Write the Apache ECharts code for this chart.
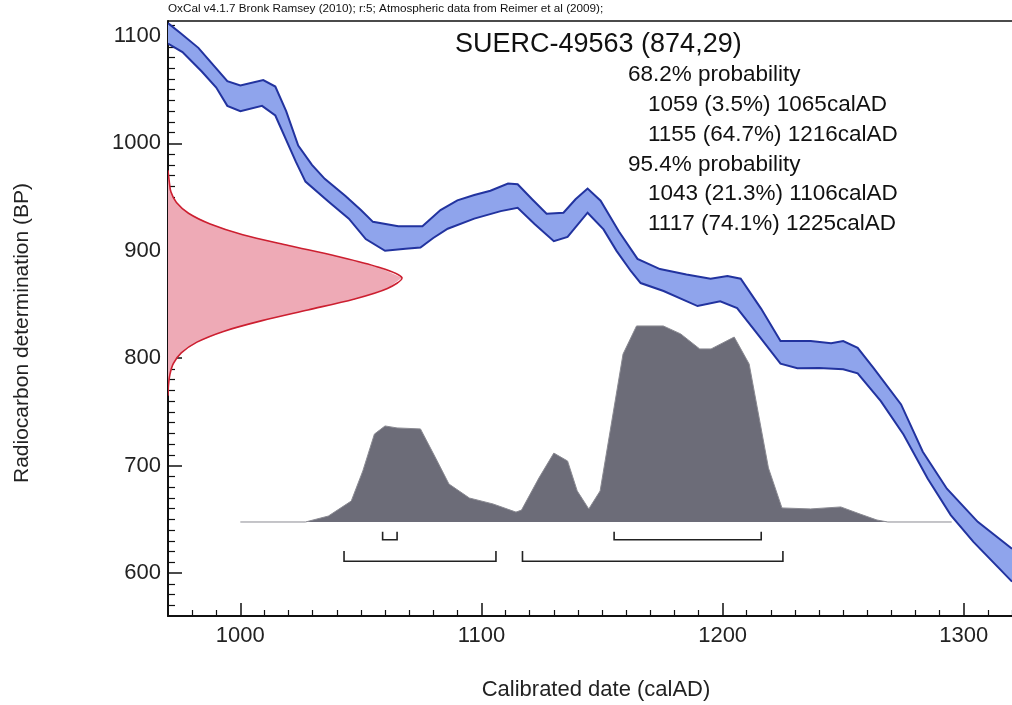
<!DOCTYPE html>
<html>
<head>
<meta charset="utf-8">
<script src="https://cdn.jsdelivr.net/npm/echarts@6/dist/echarts.min.js"></script>
<style>
html,body{margin:0;padding:0;background:#ffffff;}
#chart{width:1012px;height:705px;}
</style>
</head>
<body>
<div id="chart"></div>
<script>
// ---------------- data ----------------
const headerText = 'OxCal v4.1.7 Bronk Ramsey (2010); r:5; Atmospheric data from Reimer et al (2009);';
const sampleName = 'SUERC-49563';
const sampleBP = 874;
const sampleErr = 29;
const xTitle = 'Calibrated date (calAD)';
const yTitle = 'Radiocarbon determination (BP)';

const xMajorTicks = [1000, 1100, 1200, 1300];
const yMajorTicks = [600, 700, 800, 900, 1000, 1100];

// calibration curve band (calAD, BP)
const curveUpper = [
  [970,1112],[975,1103],[982.6,1089],[988,1075],[994.6,1058],[1000,1054],[1009.5,1059],[1014.5,1053],
  [1019,1030],[1024,998],[1029.7,980],[1035,967],[1043.6,951],[1050,938],[1055,927],[1065.5,923],
  [1075.5,923],[1083,938],[1090,947],[1097,952],[1103.7,956],[1111,962.6],[1115,962],[1121,948],
  [1127,934.6],[1134,935.5],[1139,948],[1144,958],[1149.4,946.7],[1157,918],[1164.7,892.5],[1174,883],
  [1185,878],[1195,874],[1202,876.6],[1207.5,874],[1216,846],[1224,816],[1236.5,816],[1245,814],
  [1250,816],[1256,809.6],[1262.7,790.6],[1274,757],[1283,713],[1293,678.5],[1305.8,647.7],[1320,622.6]
];
const curveLower = [
  [970,1093],[976,1085],[984,1067],[990,1052],[994.6,1035],[1000,1030],[1009,1035],[1014.5,1026],
  [1023,983],[1027,964.5],[1036.5,946],[1045,930],[1052,911],[1060,900],[1068.5,902],[1074.7,903],
  [1080,912],[1086,920.6],[1097,930],[1108,937],[1115,940],[1122,925],[1130,909],[1135.7,913],
  [1144,935.5],[1150.6,920],[1156,900],[1162,881],[1166,870],[1175.5,862.6],[1189.6,848.6],[1199,853],
  [1206,846.7],[1214.5,822.4],[1224,795],[1231,790.6],[1240,791],[1250,789.7],[1256,786],[1265.6,760],
  [1275,729],[1285,688],[1294.6,654],[1304,629],[1320,592]
];

// radiocarbon measurement distribution: [BP, width in years from axis]
const measurement = [
  [975,0],[965,0.5],[955,1.2],[945,3.5],[935,8.5],[925,17.5],[915,31],[905,50],[895,70],[885,87],
  [875,97],[865,91],[855,77],[845,58],[835,39],[825,23],[815,12],[805,5.5],[795,2.2],[785,0.8],[775,0.2],[765,0]
];

// calibrated probability distribution: [calAD, relative probability]
const calibrated = [
  [1000,0],[1027,0],[1036.5,0.03],[1046,0.106],[1050.8,0.258],[1055.6,0.444],[1060,0.485],[1065,0.475],
  [1074.7,0.47],[1081,0.323],[1086.5,0.192],[1095,0.121],[1104.8,0.091],[1114.3,0.05],[1116.6,0.06],
  [1123.8,0.222],[1130,0.348],[1135.7,0.308],[1139.7,0.157],[1144.5,0.066],[1149.2,0.157],[1158.7,0.848],
  [1164.3,0.99],[1175.4,0.99],[1182.6,0.95],[1190.5,0.874],[1195.2,0.874],[1204.8,0.934],[1211,0.798],
  [1219,0.273],[1224.6,0.071],[1236.5,0.066],[1249,0.076],[1257,0.04],[1264,0.01],[1268.5,0],[1295,0]
];

// probability ranges
const range68 = [[1059,1065],[1155,1216]];
const prob68 = [3.5, 64.7];
const range95 = [[1043,1106],[1117,1225]];
const prob95 = [21.3, 74.1];

// ---------------- layout ----------------
const X_MIN = 970, X_MAX = 1320, Y_MIN = 560, Y_MAX = 1114;
const FONT = '"Liberation Sans", Arial, Helvetica, sans-serif';
const bracketLevels = [ {top:638.5, bottom:631}, {top:620.5, bottom:611} ];

const xMinor = [], yMinor = [];
for (let v = 980; v <= 1320; v += 10) if (v % 100 !== 0) xMinor.push(v);
for (let v = 570; v <= 1110; v += 10) if (v % 100 !== 0) yMinor.push(v);

const chart = echarts.init(document.getElementById('chart'), null, {renderer:'canvas'});

function clipRect(params){
  const cs = params.coordSys;
  return {type:'rect', shape:{x:cs.x, y:cs.y, width:cs.width, height:cs.height}};
}
const plain = v => String(v);

const bracketData = [];
range68.forEach(r => bracketData.push([r[0], r[1], 0]));
range95.forEach(r => bracketData.push([r[0], r[1], 1]));

const textLines = [];
textLines.push({t:'68.2% probability', indent:false});
range68.forEach((r,i)=>textLines.push({t: r[0]+' ('+prob68[i]+'%) '+r[1]+'calAD', indent:true}));
textLines.push({t:'95.4% probability', indent:false});
range95.forEach((r,i)=>textLines.push({t: r[0]+' ('+prob95[i]+'%) '+r[1]+'calAD', indent:true}));

const graphics = [
  {type:'text', left:168, top:3, style:{text:headerText, font:'11.7px '+FONT, fill:'#111'}},
  {type:'text', x:455, y:45, style:{text: sampleName+' ('+sampleBP+','+sampleErr+')', font:'27px '+FONT, fill:'#111', textVerticalAlign:'middle'}},
  {type:'text', x:22, y:333, rotation:Math.PI/2, style:{text:yTitle, font:'21px '+FONT, fill:'#222', textAlign:'center', textVerticalAlign:'middle'}},
  {type:'text', x:596, y:690, style:{text:xTitle, font:'22px '+FONT, fill:'#222', textAlign:'center', textVerticalAlign:'middle'}}
];
textLines.forEach((l,i)=>{
  graphics.push({type:'text', x: l.indent ? 648 : 628, y: 75 + i*29.8,
    style:{text:l.t, font:'22.5px '+FONT, fill:'#111', textVerticalAlign:'middle'}});
});

const option = {
  backgroundColor:'#ffffff',
  animation:false,
  grid:{left:168, right:0, top:21, bottom:89, outerBoundsMode:'none', containLabel:false},
  xAxis:[
    {type:'value', position:'bottom', min:X_MIN, max:X_MAX,
      axisLine:{show:true, onZero:false, lineStyle:{color:'#111', width:2}},
      axisTick:{show:true, inside:true, length:13, lineStyle:{color:'#111', width:1.5}, customValues:xMajorTicks},
      axisLabel:{show:true, customValues:xMajorTicks, formatter:plain, fontSize:22, color:'#222', fontFamily:FONT, margin:9},
      splitLine:{show:false}},
    {type:'value', position:'bottom', min:X_MIN, max:X_MAX,
      axisLine:{show:false, onZero:false},
      axisTick:{show:true, inside:true, length:6, lineStyle:{color:'#111', width:1.2}, customValues:xMinor},
      axisLabel:{show:false}, splitLine:{show:false}},
    {type:'value', position:'top', min:X_MIN, max:X_MAX,
      axisLine:{show:true, onZero:false, lineStyle:{color:'#111', width:1.5}},
      axisTick:{show:false}, axisLabel:{show:false}, splitLine:{show:false}}
  ],
  yAxis:[
    {type:'value', position:'left', min:Y_MIN, max:Y_MAX,
      axisLine:{show:true, onZero:false, lineStyle:{color:'#111', width:2}},
      axisTick:{show:true, inside:true, length:14, lineStyle:{color:'#111', width:1.5}, customValues:yMajorTicks},
      axisLabel:{show:true, customValues:yMajorTicks, formatter:plain, fontSize:22, color:'#222', fontFamily:FONT, margin:7},
      splitLine:{show:false}},
    {type:'value', position:'left', min:Y_MIN, max:Y_MAX,
      axisLine:{show:false, onZero:false},
      axisTick:{show:true, inside:true, length:7, lineStyle:{color:'#111', width:1.2}, customValues:yMinor},
      axisLabel:{show:false}, splitLine:{show:false}},
    {type:'value', position:'right', min:-0.4747, max:2.530, show:false, splitLine:{show:false}}
  ],
  graphic: graphics,
  series:[
    // calibrated distribution
    {type:'line', xAxisIndex:0, yAxisIndex:2, data:calibrated, showSymbol:false, symbol:'none',
      lineStyle:{color:'#8a8a92', width:1}, areaStyle:{color:'#6c6c78', opacity:1}, z:2},
    // measurement distribution (red)
    {type:'custom', xAxisIndex:0, yAxisIndex:0, data:[[1000,900]], z:3,
      renderItem:function(params, api){
        const curve = measurement.map(m => api.coord([X_MIN + m[1], m[0]]));
        const poly = curve.concat([api.coord([X_MIN, measurement[measurement.length-1][0]]), api.coord([X_MIN, measurement[0][0]])]);
        return {type:'group', clipPath:clipRect(params), children:[
          {type:'polygon', shape:{points:poly}, style:{fill:'#eeaab6', stroke:null}},
          {type:'polyline', shape:{points:curve, smooth:0.3}, style:{fill:null, stroke:'#cc1f30', lineWidth:1.6}}
        ]};
      }},
    // calibration curve band
    {type:'custom', xAxisIndex:0, yAxisIndex:0, data:[[1100,900]], z:4,
      renderItem:function(params, api){
        const up = curveUpper.map(p => api.coord(p));
        const lo = curveLower.map(p => api.coord(p));
        return {type:'group', clipPath:clipRect(params), children:[
          {type:'polygon', shape:{points:up.concat(lo.slice().reverse())}, style:{fill:'#8fa4ec', stroke:null}},
          {type:'polyline', shape:{points:up}, style:{fill:null, stroke:'#22339f', lineWidth:2}},
          {type:'polyline', shape:{points:lo}, style:{fill:null, stroke:'#22339f', lineWidth:2}}
        ]};
      }},
    // range brackets
    {type:'custom', xAxisIndex:0, yAxisIndex:0, data:bracketData, z:5,
      renderItem:function(params, api){
        const s = api.value(0), e = api.value(1), lv = bracketLevels[api.value(2)];
        return {type:'polyline', shape:{points:[
          api.coord([s, lv.top]), api.coord([s, lv.bottom]), api.coord([e, lv.bottom]), api.coord([e, lv.top])
        ]}, style:{fill:null, stroke:'#222', lineWidth:1.6}};
      }}
  ]
};
chart.setOption(option);
</script>
</body>
</html>
